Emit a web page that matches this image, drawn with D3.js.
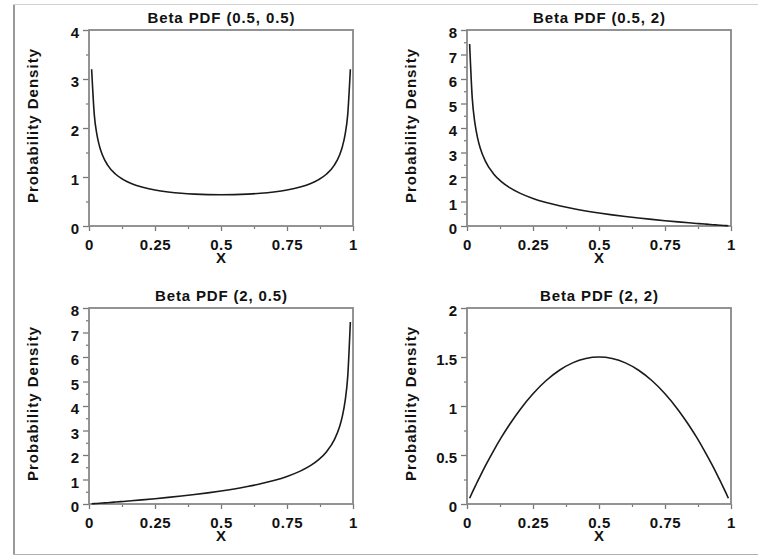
<!DOCTYPE html>
<html>
<head>
<meta charset="utf-8">
<script src="https://cdn.jsdelivr.net/npm/d3@7"></script>
<style>
  html, body { margin: 0; padding: 0; background: #fff; }
  svg { display: block; }
</style>
</head>
<body>
<svg id="chart" width="758" height="558"></svg>
<script>
// ---- data ----
const xVals = [0.01,0.02,0.03,0.04,0.05,0.07,0.1,0.13,0.16,0.2,0.25,0.3,0.35,0.4,0.45,0.5,
               0.55,0.6,0.65,0.7,0.75,0.8,0.84,0.87,0.9,0.93,0.95,0.96,0.97,0.98,0.99];
const beta05_05 = [3.199,2.274,1.866,1.624,1.461,1.248,1.061,0.947,0.868,0.796,0.735,0.695,0.667,0.650,0.640,0.637,
                   0.640,0.650,0.667,0.695,0.735,0.796,0.868,0.947,1.061,1.248,1.461,1.624,1.866,2.274,3.199];
const beta05_2  = [7.425,5.197,4.200,3.600,3.186,2.636,2.135,1.810,1.575,1.342,1.125,0.959,0.824,0.712,0.615,0.530,
                   0.455,0.387,0.326,0.269,0.217,0.168,0.131,0.105,0.079,0.054,0.039,0.031,0.023,0.015,0.008];
const beta2_05  = [0.008,0.015,0.023,0.031,0.039,0.054,0.079,0.105,0.131,0.168,0.217,0.269,0.326,0.387,0.455,0.530,
                   0.615,0.712,0.824,0.959,1.125,1.342,1.575,1.810,2.135,2.636,3.186,3.600,4.200,5.197,7.425];
const beta2_2   = [0.059,0.118,0.175,0.230,0.285,0.391,0.540,0.679,0.806,0.960,1.125,1.260,1.365,1.440,1.485,1.500,
                   1.485,1.440,1.365,1.260,1.125,0.960,0.806,0.679,0.540,0.391,0.285,0.230,0.175,0.118,0.059];

const titles = ["Beta PDF (0.5, 0.5)", "Beta PDF (0.5, 2)", "Beta PDF (2, 0.5)", "Beta PDF (2, 2)"];
const titleWidths = [147, 132, 132, 118];
const xTicks = [0, 0.25, 0.5, 0.75, 1];
const xTickLabels = ["0", "0.25", "0.5", "0.75", "1"];
const xMinorTicks = [0.125, 0.375, 0.625, 0.875];
const yMax = [4, 8, 8, 2];
const yTicks1 = [0, 1, 2, 3, 4];
const yTicks2 = [0, 1, 2, 3, 4, 5, 6, 7, 8];
const yTicks4 = [0, 0.5, 1, 1.5, 2];
const yTickLabels4 = ["0", "0.5", "1", "1.5", "2"];
const yMinorStep = [0.5, 0.5, 0.5, 0.25];
const xLabel = "X";
const yLabel = "Probability Density";

// ---- layout ----
const svg = d3.select("#chart");
const W = 264, H = 196;
const lefts = [89, 467, 89, 467];
const tops = [30, 30, 308, 308];
const seriesList = [beta05_05, beta05_2, beta2_05, beta2_2];
const yTickSets = [yTicks1, yTicks2, yTicks2, yTicks4];
const yLabelSets = [yTicks1.map(String), yTicks2.map(String), yTicks2.map(String), yTickLabels4];
const FONT = "'Liberation Sans', Arial, Helvetica, sans-serif";

// outer border
svg.append("line").attr("x1", 14).attr("x2", 14).attr("y1", 4).attr("y2", 555)
  .attr("stroke", "#9a9a9a").attr("stroke-width", 2);
svg.append("line").attr("x1", 13).attr("x2", 758).attr("y1", 4.5).attr("y2", 4.5)
  .attr("stroke", "#d0d0d0").attr("stroke-width", 1);
svg.append("line").attr("x1", 13).attr("x2", 758).attr("y1", 554.5).attr("y2", 554.5)
  .attr("stroke", "#b0b0b0").attr("stroke-width", 1);

for (let p = 0; p < 4; p++) {
  const g = svg.append("g").attr("transform", `translate(${lefts[p]},${tops[p]})`);
  const x = d3.scaleLinear().domain([0, 1]).range([0, W]);
  const y = d3.scaleLinear().domain([0, yMax[p]]).range([H, 0]);

  // minor y ticks
  const step = yMinorStep[p];
  const yMinor = d3.range(0, yMax[p] + 1e-9, step).filter(v => Math.abs(v / (p === 3 ? 0.5 : 1) - Math.round(v / (p === 3 ? 0.5 : 1))) > 1e-6);
  g.append("g").call(d3.axisLeft(y).tickValues(yMinor).tickSize(3).tickFormat(""))
    .call(s => s.select(".domain").remove())
    .selectAll("line").attr("stroke", "#777").attr("stroke-width", 1.2);

  // minor x ticks
  g.append("g").attr("transform", `translate(0,${H})`)
    .call(d3.axisBottom(x).tickValues(xMinorTicks).tickSize(3).tickFormat(""))
    .call(s => s.select(".domain").remove())
    .selectAll("line").attr("stroke", "#777").attr("stroke-width", 1.2);

  // major y axis
  const yLabs = yLabelSets[p];
  const ya = g.append("g").call(d3.axisLeft(y).tickValues(yTickSets[p]).tickSize(6).tickPadding(4)
      .tickFormat((d, i) => yLabs[i]))
    .call(s => s.select(".domain").remove());
  ya.selectAll("line").attr("stroke", "#777").attr("stroke-width", 1.3);
  ya.selectAll("text").attr("font-family", FONT).attr("font-size", 15).attr("font-weight", "bold")
    .attr("fill", "#111").attr("dy", "0.5em");

  // major x axis
  const xa = g.append("g").attr("transform", `translate(0,${H})`)
    .call(d3.axisBottom(x).tickValues(xTicks).tickSize(5).tickFormat((d, i) => xTickLabels[i]))
    .call(s => s.select(".domain").remove());
  xa.selectAll("line").attr("stroke", "#777").attr("stroke-width", 1.3);
  xa.selectAll("text").attr("font-family", FONT).attr("font-size", 15).attr("font-weight", "bold")
    .attr("fill", "#111").attr("y", 24).attr("dy", 0).attr("letter-spacing", "0.6");

  // frame
  g.append("rect").attr("x", 0).attr("y", 0).attr("width", W).attr("height", H)
    .attr("fill", "none").attr("stroke", "#888").attr("stroke-width", 1.8);

  // curve
  const pts = xVals.map((v, i) => [v, seriesList[p][i]]);
  g.append("path").datum(pts)
    .attr("fill", "none").attr("stroke", "#1a1a1a").attr("stroke-width", 1.6)
    .attr("d", d3.line().x(d => x(d[0])).y(d => y(d[1])).curve(d3.curveMonotoneX));

  // title
  g.append("text").attr("x", W / 2).attr("y", -7).attr("text-anchor", "middle")
    .attr("font-family", FONT).attr("font-size", 15).attr("font-weight", "bold").attr("fill", "#111")
    .attr("textLength", titleWidths[p]).attr("lengthAdjust", "spacing")
    .text(titles[p]);

  // x label
  g.append("text").attr("x", W / 2).attr("y", H + 37).attr("text-anchor", "middle")
    .attr("font-family", FONT).attr("font-size", 15).attr("font-weight", "bold").attr("fill", "#111")
    .text(xLabel);

  // y label
  g.append("text").attr("transform", `translate(-51,${H / 2 - 2}) rotate(-90)`)
    .attr("text-anchor", "middle")
    .attr("font-family", FONT).attr("font-size", 15).attr("font-weight", "bold").attr("fill", "#111")
    .attr("textLength", 154).attr("lengthAdjust", "spacing")
    .text(yLabel);
}
</script>
</body>
</html>
